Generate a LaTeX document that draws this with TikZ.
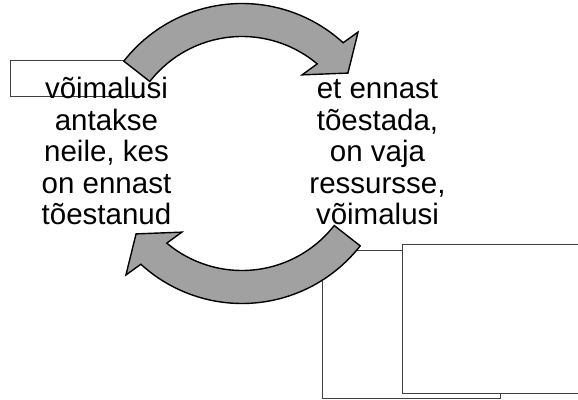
\documentclass[tikz,border=0pt]{standalone}
\usepackage{fontspec}
\setmainfont{Liberation Sans}
\begin{document}
\begin{tikzpicture}[x=1pt,y=1pt,
  boxline/.style={draw=black!75, line width=1pt},
  cyclearrow/.style={draw=black, fill=black!37, line width=1.4pt, line join=miter},
  cyclelabel/.style={font=\fontsize{29.5}{31.5}\selectfont, align=center, inner sep=0pt, anchor=base}]
\useasboundingbox (0,0) rectangle (578,399);
\clip (0,0) rectangle (578,399);
\coordinate (C) at (242,245.5);
% boxes
\draw[boxline] (130,338) -- (10,338) -- (10,302) -- (145,302);
\draw[boxline, fill=white] (322,148) rectangle (500,1);
\draw[boxline, fill=white] (402,154) rectangle (590,6);
% texts
\node[cyclelabel] (left) at (106.5,174) {võimalusi\\antakse\\neile, kes\\on ennast\\tõestanud};
\node[cyclelabel] (right) at (377.5,174) {et ennast\\tõestada,\\on vaja\\ressursse,\\võimalusi};
% arrows
\begin{scope}[shift={(C)}]
\draw[cyclearrow] (142:150) arc[start angle=142,end angle=47.6,radius=150] -- (46.3:168) -- (37.2:133) -- (52.6:99) -- (50:117) arc[start angle=50,end angle=142,radius=117] -- cycle;
\end{scope}
\begin{scope}[shift={(C)}, rotate=180]
\draw[cyclearrow] (142:150) arc[start angle=142,end angle=47.6,radius=150] -- (46.3:168) -- (37.2:133) -- (52.6:99) -- (50:117) arc[start angle=50,end angle=142,radius=117] -- cycle;
\end{scope}
\end{tikzpicture}
\end{document}
